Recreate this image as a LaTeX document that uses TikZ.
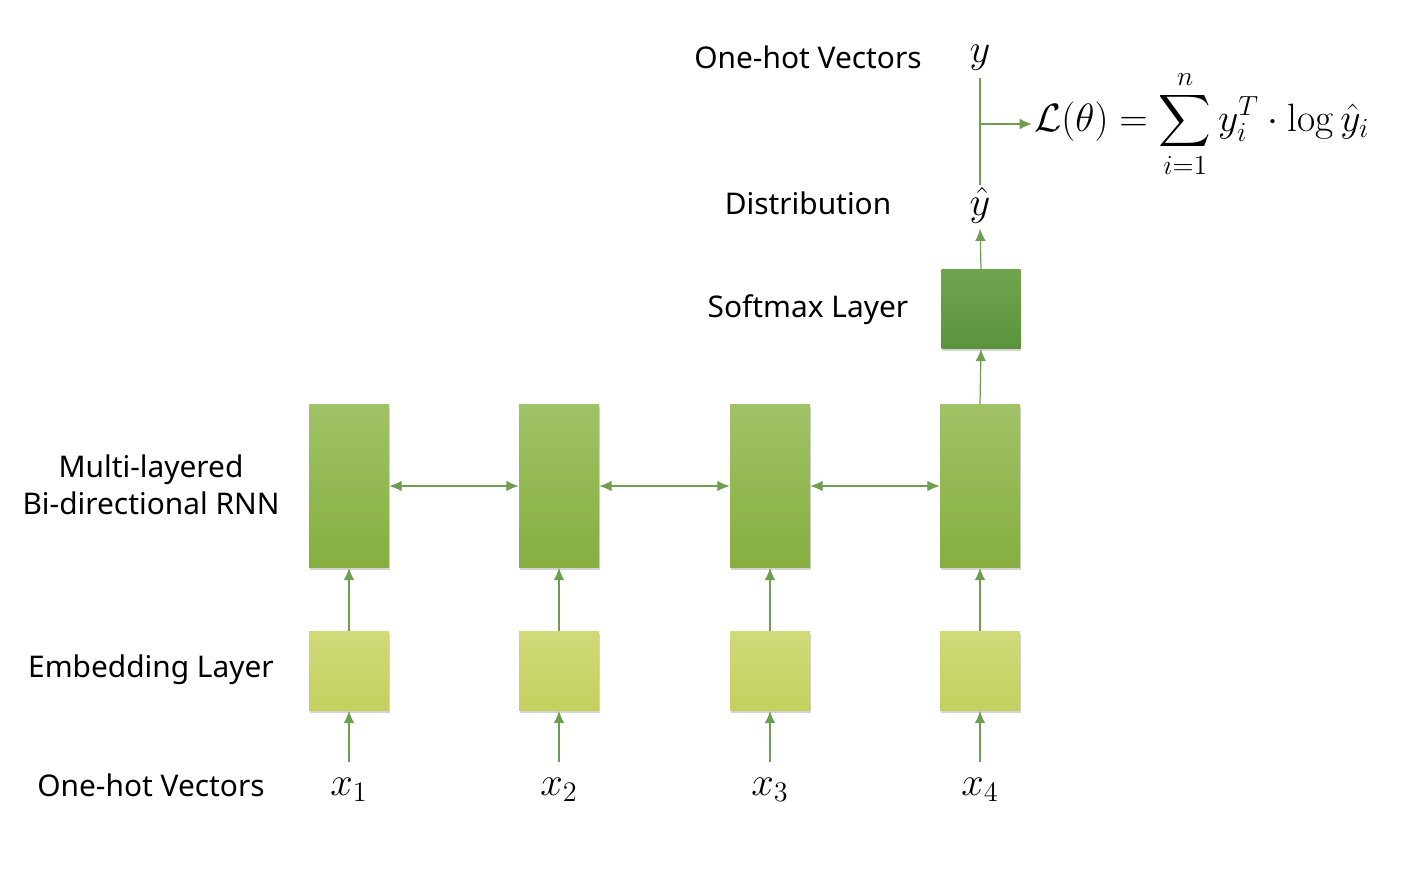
\documentclass[tikz,border=0pt]{standalone}
\usepackage{fix-cm}
\usepackage{amsmath}
\usepackage{fontspec}
\setsansfont{Noto Sans}
\usetikzlibrary{arrows.meta, shadows}
\definecolor{rnnTop}{HTML}{A0C266}
\definecolor{rnnBot}{HTML}{86AE3F}
\definecolor{embTop}{HTML}{D0DA78}
\definecolor{embBot}{HTML}{C3D05E}
\definecolor{smTop}{HTML}{6FA44E}
\definecolor{smBot}{HTML}{5B933C}
\definecolor{linkGreen}{HTML}{6E9E50}
\tikzset{>={Latex[length=7pt,width=6pt]}}
\tikzset{
  rnnNode/.style={shape=rectangle, minimum width=1.6cm, minimum height=3.26cm, inner sep=0pt,
    top color=rnnTop, bottom color=rnnBot, draw=none,
    drop shadow={opacity=0.35, shadow xshift=0.5pt, shadow yshift=-1.5pt}},
  embNode/.style={rnnNode, minimum height=1.58cm, top color=embTop, bottom color=embBot},
  smNode/.style={rnnNode, minimum width=1.58cm, minimum height=1.58cm, top color=smTop, bottom color=smBot},
  lbl/.style={font=\sffamily\fontsize{17}{21}\selectfont, align=center},
  var/.style={font=\fontsize{23}{27}\selectfont, inner sep=1pt},
  upLink/.style={draw=linkGreen, ->, line width=0.7pt},
  biLink/.style={draw=linkGreen, <->, line width=0.7pt},
  plainLink/.style={draw=linkGreen, line width=0.7pt}
}
\begin{document}
\begin{tikzpicture}[x=0.02cm, y=-0.02cm]
  \useasboundingbox (0,0) rectangle (1412,876);

  % labels on the left
  \node (lOH) [lbl] at (151,785) {One-hot Vectors};
  \node (lEmb) [lbl] at (151,670) {Embedding Layer};
  \node (lRNN) [lbl] at (151,485) {Multi-layered\\Bi-directional RNN};
  \node (lSm) [lbl] at (808,310) {Softmax Layer};
  \node (lDist) [lbl] at (808,203) {Distribution};
  \node (lOH2) [lbl] at (808,57) {One-hot Vectors};

  % inputs, embeddings, rnn
  \foreach \i/\x in {1/349, 2/559, 3/770, 4/980} {
    \node (x\i) [var] at (\x,790) {$x_{\i}$};
    \node (e\i) [embNode] at (\x,671) {};
    \node (r\i) [rnnNode] at (\x,486) {};
    \path (x\i.north) edge [upLink, shorten <=8pt] (e\i.south)
          (e\i.north) edge [upLink] (r\i.south);
  }

  \node (sm) [smNode] at (981,309) {};
  \node (yh) [var] at (980,205) {$\hat{y}$};
  \node (y) [var] at (980,58) {$y$};
  \node (loss) [font=\fontsize{22.5}{27}\selectfont, anchor=west, inner sep=1pt] at (1032,124)
    {$\displaystyle \mathcal{L}(\theta) = \sum_{i=1}^{n} y_i^T \cdot \log \hat{y}_i$};
  \coordinate (br) at (980,124);

  \path
    (r1) edge [biLink] (r2)
    (r2) edge [biLink] (r3)
    (r3) edge [biLink] (r4)
    (r4.north) edge [upLink] (sm.south)
    (sm.north) edge [upLink, shorten >=2pt] (yh.south)
    (y.south) edge [plainLink, shorten <=3pt] (yh.north)
    (br) edge [upLink] (loss.west);

\end{tikzpicture}
\end{document}
